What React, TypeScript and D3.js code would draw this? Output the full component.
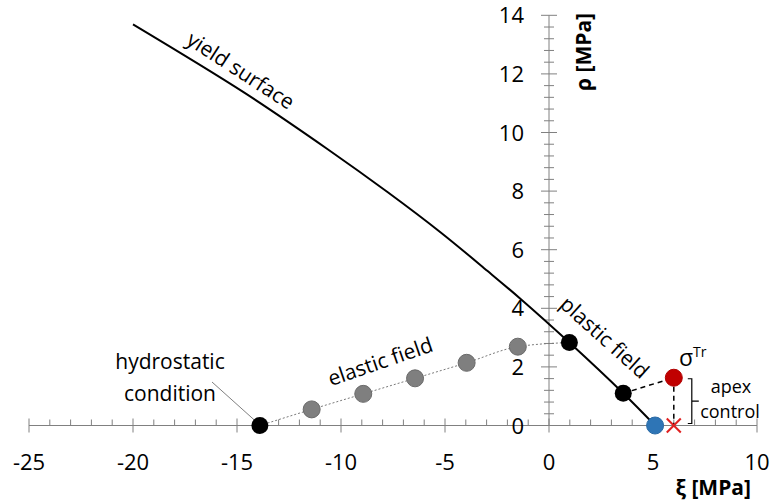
import React from "react";
import * as d3 from "d3";

// ---- data ----
const yieldXi = [-20, -14.65, -10.64, -7.75, -5.19, -2.95, -1.35, 0.98, 3.57, 5.1];
const yieldRho = [13.69, 11.36, 9.43, 7.96, 6.58, 5.27, 4.31, 2.83, 1.1, 0];

const elasticXi = [-11.41, -8.93, -6.44, -3.96, -1.5];
const elasticRho = [0.55, 1.08, 1.61, 2.14, 2.69];

const hydroPoint = [-13.9, 0];
const plasticXi = [0.98, 3.57];
const plasticRho = [2.83, 1.1];
const apexPoint = [5.1, 0];
const trialPoint = [6.0, 1.63];
const crossPoint = [6.0, 0];

const xMajorTicks = [-25, -20, -15, -10, -5, 0, 5, 10];
const yMajorTicks = [0, 2, 4, 6, 8, 10, 12, 14];
const xMinorStep = 1;
const yMinorStep = 0.4;

const FONT = "'Open Sans', sans-serif";

export default function App() {
  const W = 771;
  const H = 501;
  const x = d3.scaleLinear().domain([-25, 10]).range([29, 757]);
  const y = d3.scaleLinear().domain([0, 14]).range([425.5, 15.3]);

  const xMinor = d3.range(-25, 10 + 1e-9, xMinorStep).filter((v) => Math.abs(v % 5) > 1e-6);
  const yMinor = d3.range(0, 14 + 1e-9, yMinorStep).filter((v) => {
    const r = v / 2 - Math.round(v / 2);
    return Math.abs(r) > 1e-6;
  });

  const axisColor = "#808080";

  const yieldLine = d3
    .line<number>()
    .x((_, i) => x(yieldXi[i]))
    .y((_, i) => y(yieldRho[i]))
    .curve(d3.curveCatmullRom.alpha(0.5));

  const elasticPath: [number, number][] = [
    [hydroPoint[0], hydroPoint[1]],
    ...elasticXi.map((v, i) => [v, elasticRho[i]] as [number, number]),
    [plasticXi[0], plasticRho[0]],
  ];
  const dotted = d3
    .line<[number, number]>()
    .x((d) => x(d[0]))
    .y((d) => y(d[1]))
    .curve(d3.curveMonotoneX);

  const r = 8.5;
  const y0 = y(0);
  const x0 = x(0);

  // bracket
  const bx = x(trialPoint[0]) + 18;
  const bTop = y(trialPoint[1]) + 1;
  const bBot = y(0) - 2;
  const bMid = (bTop + bBot) / 2;

  const tx = x(trialPoint[0]);
  const ty = y(trialPoint[1]);
  const cx = x(crossPoint[0]);
  const cy = y(crossPoint[1]);

  return (
    <svg width={W} height={H} style={{ position: "absolute", left: 0, top: 0 }} fontFamily={FONT}>
      <rect width={W} height={H} fill="#fff" />

      {/* x axis */}
      <line x1={x(-25)} x2={x(10)} y1={y0} y2={y0} stroke={axisColor} strokeWidth={1} />
      {xMajorTicks.map((t) => (
        <line key={"xm" + t} x1={x(t)} x2={x(t)} y1={y0 - 7} y2={y0 + 7} stroke={axisColor} />
      ))}
      {xMinor.map((t) => (
        <line key={"xn" + t} x1={x(t)} x2={x(t)} y1={y0 - 6} y2={y0} stroke={axisColor} />
      ))}
      {xMajorTicks.map((t) => (
        <text key={"xl" + t} x={x(t)} y={470} textAnchor="middle" fontSize={22} fill="#000">
          {t < 0 ? "-" + Math.abs(t) : t}
        </text>
      ))}

      {/* y axis */}
      <line x1={x0} x2={x0} y1={y(0)} y2={y(14)} stroke={axisColor} strokeWidth={1} />
      {yMajorTicks.map((t) => (
        <line key={"ym" + t} x1={x0 - 8} x2={x0 + 8} y1={y(t)} y2={y(t)} stroke={axisColor} />
      ))}
      {yMinor.map((t) => (
        <line key={"yn" + t.toFixed(1)} x1={x0 - 5} x2={x0 + 5} y1={y(t)} y2={y(t)} stroke={axisColor} />
      ))}
      {yMajorTicks.map((t) => (
        <text key={"yl" + t} x={524} y={y(t) + 8} textAnchor="end" fontSize={22} fill="#000">
          {t}
        </text>
      ))}

      {/* axis titles */}
      <text x={751} y={495} textAnchor="end" fontSize={21} fontWeight="bold" fill="#000">
        ξ [MPa]
      </text>
      <text
        transform={`translate(591,52) rotate(-90)`}
        textAnchor="middle"
        fontSize={21}
        fontWeight="bold"
        fill="#000"
      >
        ρ [MPa]
      </text>

      {/* elastic dotted path */}
      <path d={dotted(elasticPath) || ""} fill="none" stroke="#7a7a7a" strokeWidth={1} strokeDasharray="2,2" />

      {/* yield surface */}
      <path d={yieldLine(yieldXi) || ""} fill="none" stroke="#000" strokeWidth={2} />

      {/* dashed return lines */}
      <line
        x1={x(plasticXi[1])}
        y1={y(plasticRho[1])}
        x2={tx}
        y2={ty}
        stroke="#000"
        strokeWidth={1.5}
        strokeDasharray="5,4"
      />
      <line x1={tx} y1={ty} x2={cx} y2={cy} stroke="#000" strokeWidth={1.5} strokeDasharray="5,4" />

      {/* hydrostatic leader */}
      <line x1={212} y1={382} x2={x(hydroPoint[0]) - 5} y2={y(hydroPoint[1]) - 5} stroke="#808080" strokeWidth={1} />

      {/* points */}
      {elasticXi.map((v, i) => (
        <circle key={"e" + i} cx={x(v)} cy={y(elasticRho[i])} r={r} fill="#7f7f7f" stroke="#6a6a6a" strokeWidth={1} />
      ))}
      <circle cx={x(hydroPoint[0])} cy={y(hydroPoint[1])} r={r} fill="#000" />
      {plasticXi.map((v, i) => (
        <circle key={"p" + i} cx={x(v)} cy={y(plasticRho[i])} r={r} fill="#000" />
      ))}
      <circle cx={x(apexPoint[0])} cy={y(apexPoint[1])} r={r} fill="#2e75b6" stroke="#2a6aa5" strokeWidth={1} />
      <circle cx={tx} cy={ty} r={r} fill="#c00000" stroke="#b00000" strokeWidth={1} />

      {/* red cross */}
      <line x1={cx - 7} y1={cy - 7} x2={cx + 7} y2={cy + 7} stroke="#e02020" strokeWidth={2} />
      <line x1={cx - 7} y1={cy + 7} x2={cx + 7} y2={cy - 7} stroke="#e02020" strokeWidth={2} />

      {/* bracket */}
      <path
        d={`M${bx - 4},${bTop} H${bx} V${bBot} H${bx - 4} M${bx},${bMid} H${bx + 7}`}
        fill="none"
        stroke="#000"
        strokeWidth={1.2}
      />

      {/* labels */}
      <text x={679} y={366} fontSize={23} fill="#000">
        σ
        <tspan fontSize={14} dy={-9}>
          Tr
        </tspan>
      </text>
      <text x={731} y={393} textAnchor="middle" fontSize={18} fill="#000">
        apex
      </text>
      <text x={730} y={418} textAnchor="middle" fontSize={18} fill="#000">
        control
      </text>

      <text x={170} y={369} textAnchor="middle" fontSize={21} fill="#000">
        hydrostatic
      </text>
      <text x={170} y={401} textAnchor="middle" fontSize={21} fill="#000">
        condition
      </text>

      <text transform="translate(241,70) rotate(33)" textAnchor="middle" dominantBaseline="central" fontSize={21} fill="#000">
        yield surface
      </text>
      <text transform="translate(605,337) rotate(42)" textAnchor="middle" dominantBaseline="central" fontSize={21} fill="#000">
        plastic field
      </text>
      <text transform="translate(380,361) rotate(-19)" textAnchor="middle" dominantBaseline="central" fontSize={21} fill="#000">
        elastic field
      </text>
    </svg>
  );
}
